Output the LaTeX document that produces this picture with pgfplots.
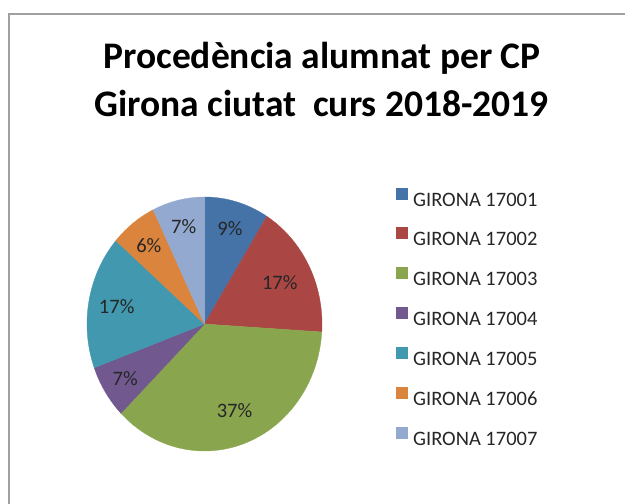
\documentclass[border=0pt]{standalone}
\usepackage{fontspec}
\setmainfont{Carlito}
\usepackage{pgfplots}
\pgfplotsset{compat=1.18}

\definecolor{c1}{HTML}{4572A7}
\definecolor{c2}{HTML}{AA4643}
\definecolor{c3}{HTML}{89A54E}
\definecolor{c4}{HTML}{71588F}
\definecolor{c5}{HTML}{4198AF}
\definecolor{c6}{HTML}{DB843D}
\definecolor{c7}{HTML}{93A9CF}
\definecolor{framegray}{HTML}{A0A0A0}

\newcommand\lbl{\fontsize{20.5}{24}\selectfont}
% #1 cumulative start (%), #2 value (%), #3 colour, #4 legend digit, #5 label radius, #6 label text
\newcommand\slice[6]{%
  \pgfmathsetmacro\sa{90-3.6*(#1+#2)}%
  \pgfmathsetmacro\sb{90-3.6*(#1)}%
  \pgfmathsetmacro\sm{90-3.6*(#1+#2/2)}%
  \pgfmathsetmacro\lx{#5*cos(\sm)}%
  \pgfmathsetmacro\ly{#5*sin(\sm)}%
  \edef\doit{%
    \noexpand\addplot[fill=#3, draw=#3, line width=0.3pt, domain=\sa:\sb, samples=80, variable=\noexpand\t]
      ({cos(\noexpand\t)},{sin(\noexpand\t)}) -- (axis cs:0,0) -- cycle;
    \noexpand\addlegendentry{GIRONA 1700#4}
    \noexpand\node[font=\noexpand\lbl, text=black!85, inner sep=0pt] at (axis cs:\lx,\ly) {#6\noexpand\%};
  }%
  \doit
}

\begin{document}
\begin{tikzpicture}[x=1pt,y=1pt]
\draw[line width=2.2pt, framegray] (9,-5) -- (9,490) -- (630,490);
\node[anchor=base, font=\fontsize{37.5}{44}\selectfont\bfseries] at (322,435) {Procedència alumnat per CP};
\node[anchor=base, font=\fontsize{37.5}{44}\selectfont\bfseries] at (321.5,387) {Girona ciutat\ \ curs 2018-2019};
\begin{axis}[
  at={(204.5pt,180pt)}, anchor=origin,
  x=117.5pt, y=127pt,
  xmin=-1, xmax=1, ymin=-1, ymax=1,
  enlargelimits=false,
  hide axis, clip=false,
  legend cell align=left,
  legend image code/.code={\path[#1, draw=none] (0pt,0pt) rectangle (12pt,12pt); \path (17pt,0pt);},
  legend style={
    at={(1.3149,1.0374)}, anchor=north west,
    draw=none, fill=none, inner sep=0pt, outer sep=0pt,
    row sep=21.4pt, column sep=0pt,
    nodes={inner sep=0pt, outer sep=0pt, text height=13pt, text depth=0pt, text=black!85},
    font=\fontsize{20.5}{24}\selectfont,
  },
]
\slice{0}{8.9}{c1}{1}{0.785}{9}
\slice{8.9}{17.1}{c2}{2}{0.72}{17}
\slice{26.0}{36.6}{c3}{3}{0.73}{37}
\slice{62.6}{6.8}{c4}{4}{0.80}{7}
\slice{69.4}{17.0}{c5}{5}{0.76}{17}
\slice{86.4}{6.4}{c6}{6}{0.78}{6}
\slice{92.8}{7.2}{c7}{7}{0.79}{7}
\end{axis}
\pgfresetboundingbox
\path[use as bounding box] (0,0) rectangle (625,504);
\end{tikzpicture}
\end{document}
